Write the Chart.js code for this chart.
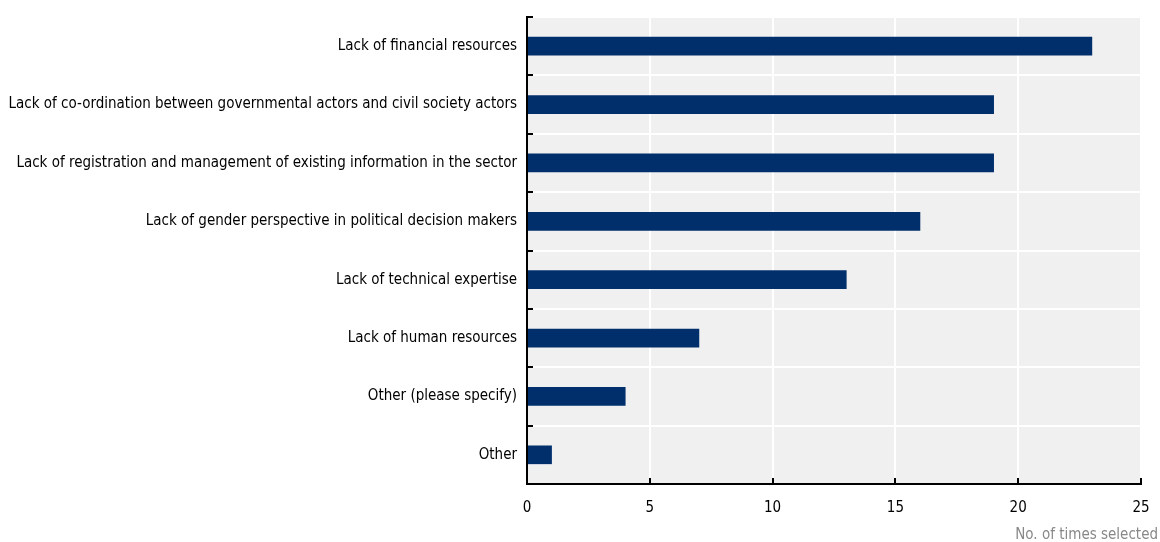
<!DOCTYPE html>
<html>
<head>
<meta charset="utf-8">
<script src="https://cdn.jsdelivr.net/npm/chart.js@4/dist/chart.umd.min.js"></script>
<style>
html,body{margin:0;padding:0;background:#fff;}
#wrap{width:1160px;height:542px;position:relative;}
</style>
</head>
<body>
<div id="wrap"><canvas id="c" width="1160" height="542"></canvas></div>
<script>
const categories = [
  "Lack of financial resources",
  "Lack of co-ordination between governmental actors and civil society actors",
  "Lack of registration and management of existing information in the sector",
  "Lack of gender perspective in political decision makers",
  "Lack of technical expertise",
  "Lack of human resources",
  "Other (please specify)",
  "Other"
];
const timesSelected = [23, 19, 19, 16, 13, 7, 4, 1];
const xTicks = [0, 5, 10, 15, 20, 25];
const xAxisTitle = "No. of times selected";

const FONT = "'Liberation Sans Narrow', 'Arial Narrow', 'DejaVu Sans Condensed', sans-serif";

const decor = {
  id: 'decor',
  beforeDraw(chart) {
    const {ctx, chartArea: a} = chart;
    ctx.save();
    ctx.fillStyle = '#f0f0f0';
    ctx.fillRect(a.left, a.top, a.right - a.left, a.bottom - a.top);
    ctx.restore();
  },
  afterDraw(chart) {
    const {ctx, chartArea: a, scales} = chart;
    const x = scales.x, y = scales.y;
    ctx.save();
    ctx.strokeStyle = '#000';
    ctx.lineWidth = 2;
    ctx.beginPath();
    ctx.moveTo(a.left, a.top - 1);
    ctx.lineTo(a.left, a.bottom);
    ctx.stroke();
    ctx.beginPath();
    ctx.moveTo(a.left - 1, a.bottom);
    ctx.lineTo(a.right + 1, a.bottom);
    ctx.stroke();
    const n = categories.length;
    const step = (y.getPixelForValue(1) - y.getPixelForValue(0));
    for (let i = 0; i < n; i++) {
      const py = Math.round(y.getPixelForValue(i) - step / 2);
      ctx.beginPath();
      ctx.moveTo(a.left, py);
      ctx.lineTo(a.left + 6, py);
      ctx.stroke();
    }
    xTicks.forEach(v => {
      if (v === 0) return;
      const px = Math.round(x.getPixelForValue(v));
      ctx.beginPath();
      ctx.moveTo(px, a.bottom);
      ctx.lineTo(px, a.bottom - 6);
      ctx.stroke();
    });
    ctx.fillStyle = '#888';
    ctx.font = '15px ' + FONT;
    ctx.textAlign = 'right';
    ctx.textBaseline = 'middle';
    ctx.fillText(xAxisTitle, chart.width - 2, 535);
    ctx.restore();
  }
};

new Chart(document.getElementById('c'), {
  type: 'bar',
  data: {
    labels: categories,
    datasets: [{
      data: timesSelected,
      backgroundColor: '#002f6c',
      borderWidth: 0,
      barThickness: 18
    }]
  },
  options: {
    indexAxis: 'y',
    responsive: false,
    animation: false,
    devicePixelRatio: 1,
    layout: { padding: { top: 17, right: 19, left: 0, bottom: 0 } },
    plugins: { legend: { display: false }, tooltip: { enabled: false } },
    scales: {
      x: {
        min: 0, max: 25,
        afterBuildTicks(scale) { scale.ticks = xTicks.map(v => ({value: v})); },
        afterFit(scale) { scale.height = 58; scale.paddingLeft = 0; scale.paddingRight = 0; },
        border: { display: false },
        grid: { color: '#ffffff', lineWidth: 2, drawTicks: false },
        ticks: { color: '#000', font: { family: FONT, size: 15 }, padding: 15 }
      },
      y: {
        afterFit(scale) { scale.width = 527; scale.paddingTop = 0; scale.paddingBottom = 0; },
        border: { display: false },
        grid: { color: '#ffffff', lineWidth: 2, offset: true, drawTicks: false },
        ticks: { color: '#000', font: { family: FONT, size: 15 }, padding: 10 }
      }
    }
  },
  plugins: [decor]
});
</script>
</body>
</html>
